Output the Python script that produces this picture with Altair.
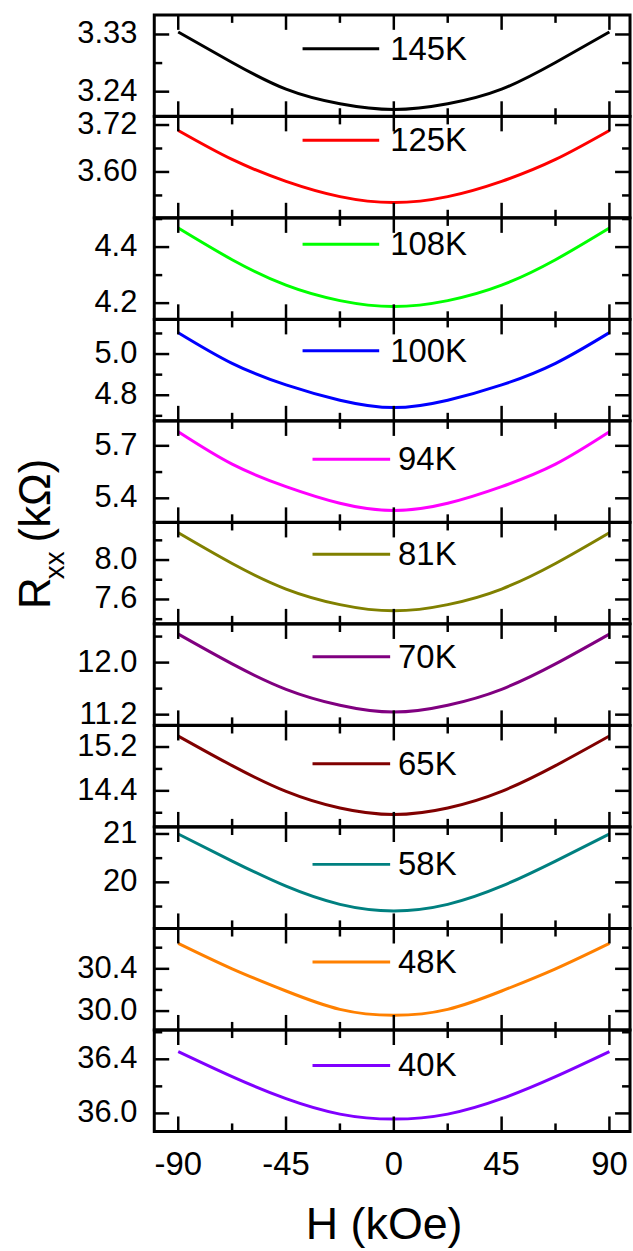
import altair as alt
import pandas as pd

FONT = "Liberation Sans"

# ---------------- data ----------------
H = [-90, -67.5, -45, -22.5, 0, 22.5, 45, 67.5, 90]

labels = ["145K", "125K", "108K", "100K", "94K", "81K", "70K", "65K", "58K", "48K", "40K"]
colors = ["#000000", "#FF0000", "#00FF00", "#0000FF", "#FF00FF", "#808000",
          "#800080", "#800000", "#008080", "#FF8000", "#8000FF"]

R_145 = [3.334, 3.286, 3.244, 3.221, 3.212, 3.221, 3.244, 3.286, 3.334]
R_125 = [3.706, 3.632, 3.576, 3.537, 3.522, 3.537, 3.576, 3.632, 3.706]
R_108 = [4.468, 4.355, 4.264, 4.209, 4.188, 4.209, 4.264, 4.355, 4.468]
R_100 = [5.104, 4.955, 4.850, 4.776, 4.740, 4.776, 4.850, 4.955, 5.104]
R_94 = [5.780, 5.595, 5.467, 5.372, 5.330, 5.372, 5.467, 5.595, 5.780]
R_81 = [8.277, 7.965, 7.706, 7.548, 7.485, 7.548, 7.706, 7.965, 8.277]
R_70 = [12.438, 11.980, 11.590, 11.345, 11.240, 11.345, 11.590, 11.980, 12.438]
R_65 = [15.400, 14.860, 14.390, 14.086, 13.967, 14.086, 14.390, 14.860, 15.400]
R_58 = [21.000, 20.440, 19.920, 19.545, 19.410, 19.545, 19.920, 20.440, 21.000]
R_48 = [30.641, 30.400, 30.190, 30.016, 29.960, 30.016, 30.190, 30.400, 30.641]
R_40 = [36.457, 36.272, 36.109, 35.995, 35.958, 35.995, 36.109, 36.272, 36.457]
series = [R_145, R_125, R_108, R_100, R_94, R_81, R_70, R_65, R_58, R_48, R_40]

y_domains = [(3.2014, 3.3608), (3.483, 3.742), (4.1425, 4.504), (4.676, 5.168),
             (5.263, 5.842), (7.353, 8.381), (11.036, 12.593), (13.743, 15.592),
             (19.049, 21.143), (29.822, 30.781), (35.867, 36.616)]
y_major = [[3.24, 3.33], [3.60, 3.72], [4.2, 4.4], [4.8, 5.0], [5.4, 5.7], [7.6, 8.0],
           [11.2, 12.0], [14.4, 15.2], [20, 21], [30.0, 30.4], [36.0, 36.4]]
y_major_labels = [["3.24", "3.33"], ["3.60", "3.72"], ["4.2", "4.4"], ["4.8", "5.0"],
                  ["5.4", "5.7"], ["7.6", "8.0"], ["11.2", "12.0"], ["14.4", "15.2"],
                  ["20", "21"], ["30.0", "30.4"], ["36.0", "36.4"]]
y_minor = [[3.285], [3.54, 3.66], [4.3, 4.5], [4.7, 4.9, 5.1], [5.55], [7.4, 7.8, 8.2],
           [11.6, 12.4], [14.0, 14.8], [19.5, 20.5], [30.2, 30.6], [36.2, 36.6]]

x_major = [-90, -45, 0, 45, 90]
x_major_labels = ["-90", "-45", "0", "45", "90"]
x_minor = [-67.5, -22.5, 22.5, 67.5]
x_domain = [-100, 98.6]

x_title = "H (kOe)"
y_title_main = "R"
y_title_sub = "xx"
y_title_unit = "(kΩ)"

# ---------------- styles ----------------
W = 478
PH = 101.8
MAJ = 15
MIN = 8
TW = 2.5
YLABEL_FS = 31
XLABEL_FS = 33
LEGEND_FS = 33
legend_y = [34, 24, 26.5, 31.5, 38.5, 32, 33, 38.5, 37.5, 33.5, 35.5]

xsc = alt.Scale(domain=x_domain, nice=False, zero=False)


def tick_layers(values, length, ysc, horizontal):
    d = pd.DataFrame({"v": values})
    out = []
    if horizontal:  # y ticks on left and right
        enc_y = alt.Y("v:Q", scale=ysc, axis=None)
        out.append(alt.Chart(d).mark_rule(color="black", strokeWidth=TW).encode(
            y=enc_y, x=alt.value(0), x2=alt.value(length)))
        out.append(alt.Chart(d).mark_rule(color="black", strokeWidth=TW).encode(
            y=enc_y, x=alt.value(W), x2=alt.value(W - length)))
    else:  # x ticks on bottom and top
        enc_x = alt.X("v:Q", scale=xsc, axis=None)
        out.append(alt.Chart(d).mark_rule(color="black", strokeWidth=TW).encode(
            x=enc_x, y=alt.value(0), y2=alt.value(length)))
        out.append(alt.Chart(d).mark_rule(color="black", strokeWidth=TW).encode(
            x=enc_x, y=alt.value(PH), y2=alt.value(PH - length)))
    return out


panels = []
n = len(labels)
for i in range(n):
    last = i == n - 1
    ysc = alt.Scale(domain=list(y_domains[i]), nice=False, zero=False)
    df = pd.DataFrame({"H": H, "R": series[i]})
    line = alt.Chart(df).mark_line(color=colors[i], strokeWidth=3, interpolate="natural").encode(
        x=alt.X("H:Q", scale=xsc, axis=None),
        y=alt.Y("R:Q", scale=ysc, axis=None),
    )
    layers = [line]
    layers += tick_layers(y_major[i], MAJ, ysc, True)
    layers += tick_layers(y_minor[i], MIN, ysc, True)
    layers += tick_layers(x_major, MAJ, ysc, False)
    layers += tick_layers(x_minor, MIN, ysc, False)

    # y tick labels
    ylab = pd.DataFrame({"v": y_major[i], "lab": y_major_labels[i]})
    layers.append(alt.Chart(ylab).mark_text(
        align="right", baseline="middle", font=FONT, fontSize=YLABEL_FS, color="black").encode(
        y=alt.Y("v:Q", scale=ysc, axis=None), x=alt.value(-17), text="lab:N"))

    three = len(labels[i]) == 4
    lx1, lx2, tx = (149, 226, 237) if three else (159, 237, 245)
    ly = legend_y[i]
    leg_rule = alt.Chart(pd.DataFrame({"k": [labels[i]]})).mark_rule(
        color=colors[i], strokeWidth=3).encode(x=alt.value(lx1), x2=alt.value(lx2), y=alt.value(ly))
    leg_text = alt.Chart(pd.DataFrame({"k": [labels[i]]})).mark_text(
        align="left", baseline="middle", font=FONT, fontSize=LEGEND_FS, color="black").encode(
        x=alt.value(tx), y=alt.value(ly + 1), text="k:N")
    layers += [leg_rule, leg_text]

    if i == 5:
        t1 = alt.Chart(pd.DataFrame({"t": [y_title_main]})).mark_text(
            angle=270, align="left", baseline="alphabetic", font=FONT, fontSize=44, color="black"
        ).encode(x=alt.value(-105), y=alt.value(87), text="t:N")
        t2 = alt.Chart(pd.DataFrame({"t": [y_title_sub]})).mark_text(
            angle=270, align="left", baseline="alphabetic", font=FONT, fontSize=28, color="black"
        ).encode(x=alt.value(-91), y=alt.value(57), text="t:N")
        t3 = alt.Chart(pd.DataFrame({"t": [y_title_unit]})).mark_text(
            angle=270, align="left", baseline="alphabetic", font=FONT, fontSize=44, color="black"
        ).encode(x=alt.value(-105), y=alt.value(20), text="t:N")
        layers += [t1, t2, t3]
    if last:
        xlab = pd.DataFrame({"v": x_major, "lab": x_major_labels})
        layers.append(alt.Chart(xlab).mark_text(
            align="center", baseline="top", font=FONT, fontSize=XLABEL_FS, color="black").encode(
            x=alt.X("v:Q", scale=xsc, axis=None), y=alt.value(PH + 18), text="lab:N"))
        xt = alt.Chart(pd.DataFrame({"t": [x_title]})).mark_text(
            align="center", baseline="alphabetic", font=FONT, fontSize=45, color="black"
        ).encode(x=alt.value(231), y=alt.value(210), text="t:N")
        layers.append(xt)

    panels.append(alt.layer(*layers).properties(width=W, height=PH))

chart = alt.vconcat(*panels, spacing=0, bounds="flush").properties(
    padding={"left": 13, "top": 9, "right": 0, "bottom": 0},
    background="white",
).configure_view(stroke="black", strokeWidth=3)

chart.save("out.html", embed_options={"renderer": "svg", "actions": False})
